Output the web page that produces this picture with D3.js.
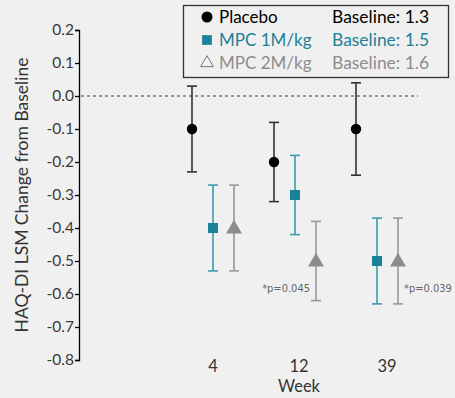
<!DOCTYPE html>
<html>
<head>
<meta charset="utf-8">
<script src="https://cdn.jsdelivr.net/npm/d3@7"></script>
<style>
  body { margin: 0; background: #f1f0f0; }
  svg { display: block; font-family: Lato, "Open Sans", sans-serif; }
</style>
</head>
<body>
<svg id="chart"></svg>
<script>
// data
const weeks = ["4", "12", "39"];
const seriesNames = ["Placebo", "MPC 1M/kg", "MPC 2M/kg"];
const baselines = ["1.3", "1.5", "1.6"];
const placeboMean = [-0.1, -0.2, -0.1];
const placeboLow = [-0.23, -0.32, -0.24];
const placeboHigh = [0.03, -0.08, 0.04];
const mpc1Mean = [-0.4, -0.3, -0.5];
const mpc1Low = [-0.53, -0.42, -0.63];
const mpc1High = [-0.27, -0.18, -0.37];
const mpc2Mean = [-0.4, -0.5, -0.5];
const mpc2Low = [-0.53, -0.62, -0.63];
const mpc2High = [-0.27, -0.38, -0.37];
const pLabels = [null, "*p=0.045", "*p=0.039"];
const yTicks = [0.2, 0.1, 0.0, -0.1, -0.2, -0.3, -0.4, -0.5, -0.6, -0.7, -0.8];

const width = 455, height = 398;
const margin = {top: 30, right: 37, bottom: 38, left: 79};

const svg = d3.select("#chart")
    .attr("width", width)
    .attr("height", height);

const yScale = d3.scaleLinear()
    .domain([-0.8, 0.2])
    .range([height - margin.bottom, margin.top]);

const xScale = d3.scalePoint()
    .domain(weeks)
    .range([213, 377]);

const offsets = [-21, 0, 21];
const colors = ["#000000", "#1b8196", "#8c8c8c"];
const barColors = ["#333333", "#3a9aae", "#999999"];

// y axis
const yAxisG = svg.append("g")
    .attr("transform", `translate(${margin.left},0)`)
    .call(d3.axisLeft(yScale).tickValues(yTicks).tickFormat(d => d.toFixed(1)).tickSize(4).tickSizeOuter(4));
yAxisG.select(".domain").attr("stroke", "#000").attr("stroke-width", 1.3);
yAxisG.selectAll(".tick line").attr("stroke", "#000").attr("stroke-width", 1.3);
yAxisG.selectAll(".tick text")
    .attr("x", -5)
    .style("font-size", "15.5px")
    .style("font-family", "Lato, sans-serif")
    .attr("fill", "#3a3a3a");

// zero line
svg.append("line")
    .attr("x1", margin.left + 2)
    .attr("x2", 418)
    .attr("y1", yScale(0))
    .attr("y2", yScale(0))
    .attr("stroke", "#777")
    .attr("stroke-width", 1.5)
    .attr("stroke-dasharray", "3,3");

// y label
svg.append("text")
    .attr("transform", `translate(28,${yScale(-0.3)}) rotate(-90)`)
    .attr("text-anchor", "middle")
    .style("font-size", "17.5px")
    .attr("fill", "#333")
    .text("HAQ-DI LSM Change from Baseline");

// x labels (no axis line)
svg.append("g").selectAll("text")
    .data(weeks)
    .join("text")
        .attr("x", d => xScale(d) + (d === "4" ? 0 : d === "12" ? 4 : 10))
        .attr("y", 372)
        .attr("text-anchor", "middle")
        .style("font-size", "16.5px")
        .attr("fill", "#333")
        .text(d => d);

svg.append("text")
    .attr("x", 299)
    .attr("y", 392)
    .attr("text-anchor", "middle")
    .style("font-size", "16.5px")
    .attr("fill", "#333")
    .text("Week");

// series
const series = [
    {mean: placeboMean, low: placeboLow, high: placeboHigh},
    {mean: mpc1Mean, low: mpc1Low, high: mpc1High},
    {mean: mpc2Mean, low: mpc2Low, high: mpc2High}
];

series.forEach(function(s, si){
    const g = svg.append("g");
    const pts = weeks.map((w, i) => ({w: w, mean: s.mean[i], low: s.low[i], high: s.high[i]}));
    const cx = d => xScale(d.w) + offsets[si];

    g.selectAll(".bar").data(pts).join("line")
        .attr("x1", cx).attr("x2", cx)
        .attr("y1", d => yScale(d.low)).attr("y2", d => yScale(d.high))
        .attr("stroke", barColors[si]).attr("stroke-width", 1.6);
    g.selectAll(".capTop").data(pts).join("line")
        .attr("x1", d => cx(d) - 5).attr("x2", d => cx(d) + 5)
        .attr("y1", d => yScale(d.high)).attr("y2", d => yScale(d.high))
        .attr("stroke", barColors[si]).attr("stroke-width", 1.6);
    g.selectAll(".capBot").data(pts).join("line")
        .attr("x1", d => cx(d) - 5).attr("x2", d => cx(d) + 5)
        .attr("y1", d => yScale(d.low)).attr("y2", d => yScale(d.low))
        .attr("stroke", barColors[si]).attr("stroke-width", 1.6);

    const sym = [d3.symbolCircle, d3.symbolSquare, d3.symbolTriangle][si];
    const size = [85, 100, 110][si];
    g.selectAll(".pt").data(pts).join("path")
        .attr("transform", d => `translate(${cx(d)},${yScale(d.mean) + (si === 2 ? 1 : 0)})`)
        .attr("d", d3.symbol().type(sym).size(size))
        .attr("fill", colors[si]);
});

// p values
svg.append("g").selectAll("text")
    .data(weeks.map((w, i) => ({w: w, p: pLabels[i]})).filter(d => d.p))
    .join("text")
        .attr("x", d => xScale(d.w) + offsets[2] + (d.w === "39" ? 6 : -6))
        .attr("y", 292)
        .attr("text-anchor", d => d.w === "39" ? "start" : "end")
        .style("font-size", "11px")
        .style("font-family", "'DejaVu Sans Condensed', 'Liberation Sans Narrow', sans-serif")
        .attr("fill", "#666")
        .text(d => d.p);

// legend
const legend = svg.append("g");
legend.append("rect")
    .attr("x", 183.5).attr("y", 5.5)
    .attr("width", 265).attr("height", 72)
    .attr("fill", "#f1f0f0")
    .attr("stroke", "#333").attr("stroke-width", 1.3);

const legendSyms = [d3.symbolCircle, d3.symbolSquare, d3.symbolTriangle];
const legendText = ["#000", "#1b8196", "#8c8c8c"];
seriesNames.forEach(function(name, i){
    const y = 17 + i * 23;
    legend.append("path")
        .attr("transform", `translate(207,${y})`)
        .attr("d", d3.symbol().type(legendSyms[i]).size(i === 2 ? 70 : 95))
        .attr("fill", i === 2 ? "none" : colors[i])
        .attr("stroke", i === 2 ? "#777" : "none")
        .attr("stroke-width", 1);
    legend.append("text")
        .attr("x", 219).attr("y", y + 6)
        .style("font-size", "17px")
        .attr("fill", legendText[i])
        .text(name);
    legend.append("text")
        .attr("x", 332).attr("y", y + 6)
        .attr("textLength", 97)
        .attr("lengthAdjust", "spacingAndGlyphs")
        .style("font-size", "17px")
        .attr("fill", legendText[i])
        .text("Baseline: " + baselines[i]);
});
</script>
</body>
</html>
